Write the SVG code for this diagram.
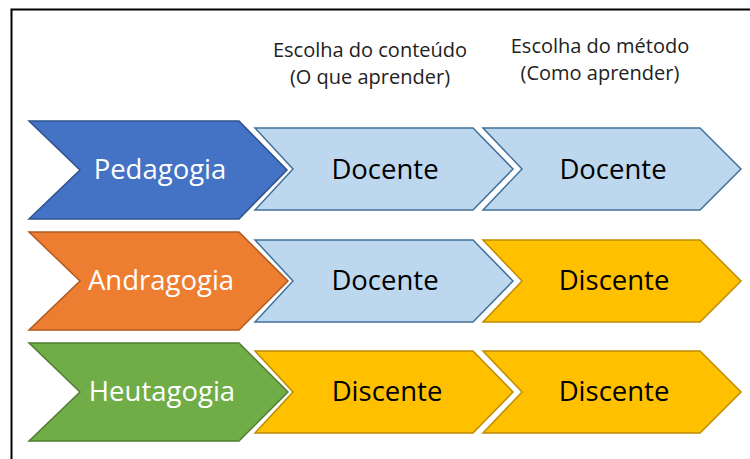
<svg xmlns="http://www.w3.org/2000/svg" width="750" height="459" viewBox="0 0 750 459">
  <style>
    text { font-family: "Open Sans", "Noto Sans", sans-serif; text-anchor: middle; }
    .lbl { font-size: 27.5px; }
    .hdr { font-size: 20px; fill: #222; }
    .w { fill: #fff; }
    .k { fill: #000; }
    .blue { fill: #4472C4; stroke: #2F528F; stroke-width: 1.5; }
    .orange { fill: #ED7D31; stroke: #AE5A21; stroke-width: 1.5; }
    .green { fill: #70AD47; stroke: #507E32; stroke-width: 1.5; }
    .light { fill: #BDD7EE; stroke: #41719C; stroke-width: 1.5; }
    .gold { fill: #FFC000; stroke: #BC8C00; stroke-width: 1.5; }
  </style>
  <rect width="750" height="459" fill="#fff"/>
  <path d="M11.5,460 L11.5,9.5 L751,9.5" fill="none" stroke="#000" stroke-width="2"/>

  <g id="header-conteudo">
    <text class="hdr" x="370" y="57">Escolha do conteúdo</text>
    <text class="hdr" x="370" y="84">(O que aprender)</text>
  </g>
  <g id="header-metodo">
    <text class="hdr" x="600" y="53">Escolha do método</text>
    <text class="hdr" x="600" y="80">(Como aprender)</text>
  </g>

  <g id="pedagogia">
    <path class="blue" d="M29,121 L239,121 L287,170 L239,219 L29,219 L80,170 Z"/>
    <text class="lbl w" x="160" y="179">Pedagogia</text>
  </g>
  <g id="pedagogia-conteudo">
    <path class="light" d="M255,128 L473,128 L513,169 L473,210 L255,210 L293,169 Z"/>
    <text class="lbl k" x="385" y="179">Docente</text>
  </g>
  <g id="pedagogia-metodo">
    <path class="light" d="M483,128 L700,128 L741,169 L700,210 L483,210 L522,169 Z"/>
    <text class="lbl k" x="613" y="179">Docente</text>
  </g>

  <g id="andragogia">
    <path class="orange" d="M29,232 L239,232 L288,281 L239,330 L29,330 L80,281 Z"/>
    <text class="lbl w" x="161" y="290">Andragogia</text>
  </g>
  <g id="andragogia-conteudo">
    <path class="light" d="M255,240 L473,240 L513,281 L473,322 L255,322 L293,281 Z"/>
    <text class="lbl k" x="385" y="290">Docente</text>
  </g>
  <g id="andragogia-metodo">
    <path class="gold" d="M483,240 L700,240 L741,281 L700,322 L483,322 L522,281 Z"/>
    <text class="lbl k" x="614" y="290">Discente</text>
  </g>

  <g id="heutagogia">
    <path class="green" d="M29,343 L239,343 L288,392 L239,441 L29,441 L80,392 Z"/>
    <text class="lbl w" x="162" y="401">Heutagogia</text>
  </g>
  <g id="heutagogia-conteudo">
    <path class="gold" d="M255,351 L473,351 L513,392 L473,433 L255,433 L293,392 Z"/>
    <text class="lbl k" x="387" y="401">Discente</text>
  </g>
  <g id="heutagogia-metodo">
    <path class="gold" d="M483,351 L700,351 L741,392 L700,433 L483,433 L522,392 Z"/>
    <text class="lbl k" x="614" y="401">Discente</text>
  </g>
</svg>
